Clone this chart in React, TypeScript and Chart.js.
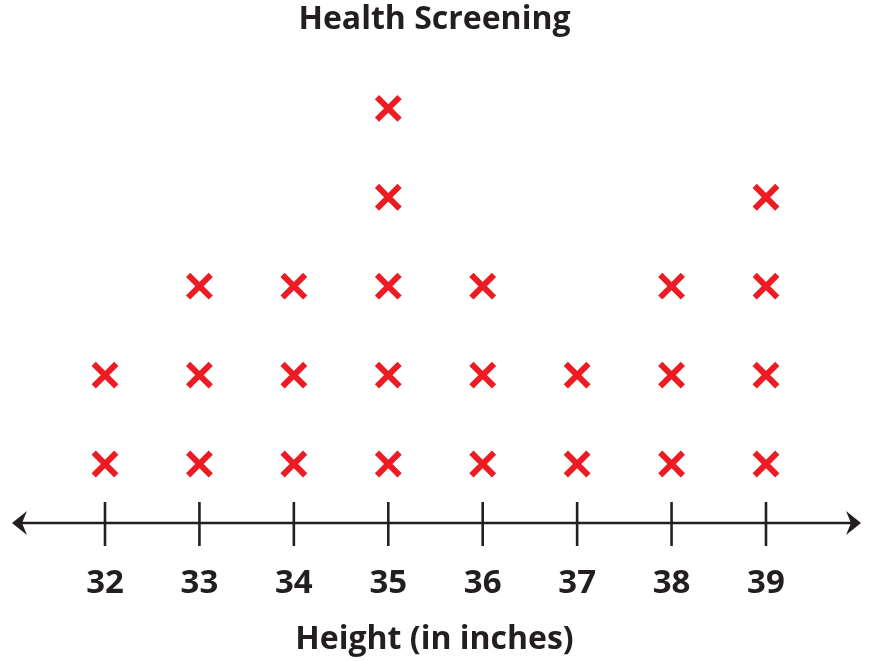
import React, { useEffect, useRef } from "react";
import { Chart, registerables } from "chart.js";

Chart.register(...registerables);

const heights = [32, 33, 34, 35, 36, 37, 38, 39];
const counts = [2, 3, 3, 5, 3, 2, 3, 4];
const tickValues = [32, 33, 34, 35, 36, 37, 38, 39];
const titleText = "Health Screening";
const axisTitle = "Height (in inches)";

const INK = "#231F20";
const RED = "#ED1C24";
const FONT = "'Open Sans', sans-serif";

const numberLinePlugin = {
  id: "numberLine",
  afterDatasetsDraw(chart: any) {
    const { ctx, chartArea, scales } = chart;
    const xs = scales.x;
    const y = chartArea.bottom;
    const left = 12;
    const right = chart.width - 8;
    ctx.save();
    ctx.strokeStyle = INK;
    ctx.fillStyle = INK;
    ctx.lineWidth = 2.6;
    ctx.beginPath();
    ctx.moveTo(left + 4, y);
    ctx.lineTo(right - 4, y);
    ctx.stroke();
    const drawHead = (tipX: number, dir: number) => {
      ctx.beginPath();
      ctx.moveTo(tipX, y);
      ctx.lineTo(tipX - dir * 15, y - 12);
      ctx.lineTo(tipX - dir * 10, y);
      ctx.lineTo(tipX - dir * 15, y + 12);
      ctx.closePath();
      ctx.fill();
    };
    drawHead(left, -1);
    drawHead(right, 1);
    tickValues.forEach((v) => {
      const px = xs.getPixelForValue(v);
      ctx.beginPath();
      ctx.moveTo(px, y - 21);
      ctx.lineTo(px, y + 23);
      ctx.stroke();
    });
    ctx.restore();
  },
};

export default function App() {
  const ref = useRef<HTMLCanvasElement | null>(null);

  useEffect(() => {
    document.body.style.margin = "0";
    const points: { x: number; y: number }[] = [];
    heights.forEach((h, i) => {
      for (let k = 1; k <= counts[i]; k++) points.push({ x: h, y: k });
    });
    const chart = new Chart(ref.current as HTMLCanvasElement, {
      type: "scatter",
      data: {
        datasets: [
          {
            data: points,
            pointStyle: "crossRot",
            pointRadius: 16,
            pointBorderWidth: 6,
            borderColor: RED,
            backgroundColor: RED,
            pointHoverRadius: 16,
          },
        ],
      },
      plugins: [numberLinePlugin],
      options: {
        animation: false,
        responsive: false,
        layout: { padding: 0, autoPadding: false },
        plugins: {
          legend: { display: false },
          tooltip: { enabled: false },
          title: {
            display: true,
            text: titleText,
            color: INK,
            font: { family: FONT, size: 32, weight: "bold", lineHeight: 1.2 },
            padding: { top: 1, bottom: 21 },
          },
        },
        scales: {
          x: {
            type: "linear",
            min: 30.888,
            max: 40.091,
            grid: { display: false, drawTicks: false },
            border: { display: false },
            afterBuildTicks: (scale: any) => {
              scale.ticks = tickValues.map((v) => ({ value: v }));
            },
            afterFit: (scale: any) => {
              scale.paddingLeft = 0;
              scale.paddingRight = 0;
              scale.height = 138;
            },
            ticks: {
              color: INK,
              padding: 41,
              autoSkip: false,
              maxRotation: 0,
              font: { family: FONT, size: 33, weight: "bold", lineHeight: 1.2 },
              callback: (v: any) => String(v),
            },
            title: {
              display: true,
              text: axisTitle,
              color: INK,
              font: { family: FONT, size: 32, weight: "bold", lineHeight: 1.2 },
              padding: { top: 20, bottom: 2 },
            },
          },
          y: {
            display: false,
            min: 0.337,
            max: 5.539,
          },
        },
      },
    });
    return () => chart.destroy();
  }, []);

  return (
    <div style={{ width: 869, height: 661 }}>
      <canvas ref={ref} width={869} height={661} style={{ display: "block" }} />
    </div>
  );
}
